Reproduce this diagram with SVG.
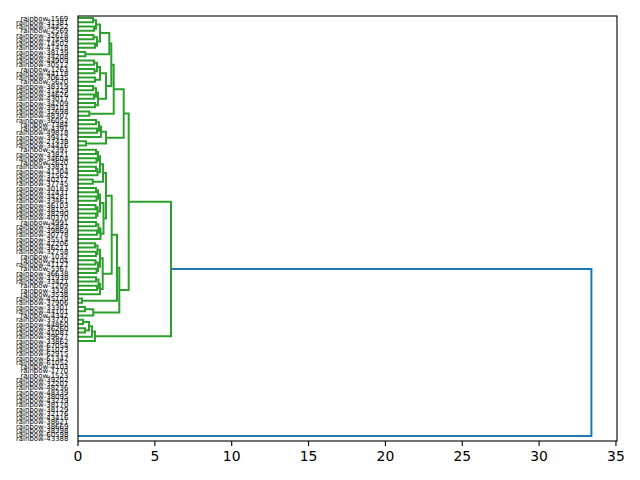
<svg xmlns="http://www.w3.org/2000/svg" width="640" height="480" viewBox="0 0 640 480">
<style>
.g{fill:none;stroke:#2ca02c;stroke-width:2;stroke-linejoin:miter;stroke-linecap:butt}
.b{fill:none;stroke:#1f77b4;stroke-width:2}
.lab{font-family:"DejaVu Sans",sans-serif;font-size:6.94px;fill:#000;text-anchor:end}
.tk{font-family:"DejaVu Sans",sans-serif;font-size:13.9px;fill:#000;text-anchor:middle}
.ax{fill:none;stroke:#000;stroke-width:1.1}
</style>
<rect width="640" height="480" fill="#fff"/>
<g id="connectors">
<path class="g" d="M78 18.1H93V22.35H78M78 26.6H94V30.85H78M93 20.23H96V28.73H94M78 35.1H93.5V39.35H78M78 43.6H95V47.85H78M93.5 37.23H97V45.73H95M96 24.48H100V41.48H97M78 52.1H85.3V56.35H78M100 32.98H109.3V54.23H85.3"/>
<path class="g" d="M78 60.6H94V64.85H78M78 69.1H94.5V73.35H78M94 62.73H97V71.23H94.5M78 77.6H95V81.85H78M97 66.98H100V79.73H95M78 86.1H93V90.35H78M78 94.6H94V98.85H78M93 88.23H96V96.73H94M78 103.1H95V107.35H78M96 92.48H98V105.23H95M100 73.35H106V98.85H98M109.3 43.6H111.3V86.1H106M78 111.6H89.3V115.85H78M111.3 64.85H113.7V113.73H89.3"/>
<path class="g" d="M78 120.1H96V124.35H78M78 128.6H97V132.85H78M96 122.23H99V130.73H97M99 126.48H101V137.1H78M78 141.35H86V145.6H78M101 131.79H106V143.48H86M113.7 89.29H123.7V137.63H106"/>
<path class="g" d="M78 149.85H96V154.1H78M78 158.35H96.5V162.6H78M96 151.98H98V160.48H96.5M78 166.85H96V171.1H78M96 168.98H97.5V175.35H78M98 156.23H100V172.16H97.5M78 179.6H92.7V183.85H78M100 164.2H103V181.73H92.7"/>
<path class="g" d="M78 188.1H96V192.35H78M78 196.6H96.5V200.85H78M96 190.23H98V198.73H96.5M78 205.1H95.5V209.35H78M78 213.6H96V217.85H78M95.5 207.23H97.5V215.73H96M98 194.48H100V211.48H97.5M78 222.1H96V226.35H78M78 230.6H97V234.85H78M96 224.23H98.5V232.73H97M98.5 228.48H100.5V239.1H78M100 202.98H103.5V233.79H100.5M103 172.96H106V218.39H103.5"/>
<path class="g" d="M78 243.35H95V247.6H78M78 251.85H96V256.1H78M95 245.48H97.5V253.98H96M78 260.35H95.5V264.6H78M78 268.85H96.5V273.1H78M95.5 262.48H98V270.98H96.5M97.5 249.73H100V266.73H98M78 277.35H96V281.6H78M78 285.85H97V290.1H78M96 279.48H98.5V287.98H97M98.5 283.73H100V294.35H78M100 258.23H102.7V289.04H100M106 195.67H111.7V273.64H102.7"/>
<path class="g" d="M78 298.6H82V302.85H78M111.7 234.66H117V300.73H82M78 307.1H85V311.35H78M85 309.23H93.3V315.6H78M117 267.7H119.3V312.41H93.3M123.7 113.46H128.7V290.06H119.3"/>
<path class="g" d="M78 319.85H83V324.1H78M78 328.35H85V332.6H78M83 321.98H89V330.48H85M89 326.23H92V336.85H78M92 331.54H95V341.1H78M128.7 201.76H171V336.32H95"/>
<path class="b" d="M171 269.04H591.4V436H78"/>
</g>
<g id="axes">
<rect class="ax" x="78" y="16" width="539" height="425"/>
<path class="ax" d="M78 441v4.9M154.85 441v4.9M231.7 441v4.9M308.55 441v4.9M385.4 441v4.9M462.25 441v4.9M539.1 441v4.9M615.95 441v4.9"/>
<text class="tk" x="78" y="461">0</text>
<text class="tk" x="154.85" y="461">5</text>
<text class="tk" x="231.7" y="461">10</text>
<text class="tk" x="308.55" y="461">15</text>
<text class="tk" x="385.4" y="461">20</text>
<text class="tk" x="462.25" y="461">25</text>
<text class="tk" x="539.1" y="461">30</text>
<text class="tk" x="615.95" y="461">35</text>
</g>
<g id="leaves">
<text class="lab" x="68.3" y="20.5">rainbow-1569</text>
<text class="lab" x="68.3" y="24.75">rainbow-31381</text>
<text class="lab" x="68.3" y="29">rainbow-34452</text>
<text class="lab" x="68.3" y="33.25">rainbow-2569</text>
<text class="lab" x="68.3" y="37.5">rainbow-32618</text>
<text class="lab" x="68.3" y="41.75">rainbow-47458</text>
<text class="lab" x="68.3" y="46">rainbow-14502</text>
<text class="lab" x="68.3" y="50.25">rainbow-41418</text>
<text class="lab" x="68.3" y="54.5">rainbow-38139</text>
<text class="lab" x="68.3" y="58.75">rainbow-34208</text>
<text class="lab" x="68.3" y="63">rainbow-44909</text>
<text class="lab" x="68.3" y="67.25">rainbow-30512</text>
<text class="lab" x="68.3" y="71.5">rainbow-1263</text>
<text class="lab" x="68.3" y="75.75">rainbow-44118</text>
<text class="lab" x="68.3" y="80">rainbow-30635</text>
<text class="lab" x="68.3" y="84.25">rainbow-5620</text>
<text class="lab" x="68.3" y="88.5">rainbow-38319</text>
<text class="lab" x="68.3" y="92.75">rainbow-31429</text>
<text class="lab" x="68.3" y="97">rainbow-34626</text>
<text class="lab" x="68.3" y="101.25">rainbow-43017</text>
<text class="lab" x="68.3" y="105.5">rainbow-34209</text>
<text class="lab" x="68.3" y="109.75">rainbow-39103</text>
<text class="lab" x="68.3" y="114">rainbow-32698</text>
<text class="lab" x="68.3" y="118.25">rainbow-48307</text>
<text class="lab" x="68.3" y="122.5">rainbow-36052</text>
<text class="lab" x="68.3" y="126.75">rainbow-7384</text>
<text class="lab" x="68.3" y="131">rainbow-4391</text>
<text class="lab" x="68.3" y="135.25">rainbow-49818</text>
<text class="lab" x="68.3" y="139.5">rainbow-39412</text>
<text class="lab" x="68.3" y="143.75">rainbow-27438</text>
<text class="lab" x="68.3" y="148">rainbow-34416</text>
<text class="lab" x="68.3" y="152.25">rainbow-2391</text>
<text class="lab" x="68.3" y="156.5">rainbow-33821</text>
<text class="lab" x="68.3" y="160.75">rainbow-34604</text>
<text class="lab" x="68.3" y="165">rainbow-2620</text>
<text class="lab" x="68.3" y="169.25">rainbow-33831</text>
<text class="lab" x="68.3" y="173.5">rainbow-41304</text>
<text class="lab" x="68.3" y="177.75">rainbow-31562</text>
<text class="lab" x="68.3" y="182">rainbow-40217</text>
<text class="lab" x="68.3" y="186.25">rainbow-37745</text>
<text class="lab" x="68.3" y="190.5">rainbow-30183</text>
<text class="lab" x="68.3" y="194.75">rainbow-32431</text>
<text class="lab" x="68.3" y="199">rainbow-34281</text>
<text class="lab" x="68.3" y="203.25">rainbow-33461</text>
<text class="lab" x="68.3" y="207.5">rainbow-36103</text>
<text class="lab" x="68.3" y="211.75">rainbow-38155</text>
<text class="lab" x="68.3" y="216">rainbow-38290</text>
<text class="lab" x="68.3" y="220.25">rainbow-40370</text>
<text class="lab" x="68.3" y="224.5">rainbow-4991</text>
<text class="lab" x="68.3" y="228.75">rainbow-32887</text>
<text class="lab" x="68.3" y="233">rainbow-39869</text>
<text class="lab" x="68.3" y="237.25">rainbow-30778</text>
<text class="lab" x="68.3" y="241.5">rainbow-35514</text>
<text class="lab" x="68.3" y="245.75">rainbow-42206</text>
<text class="lab" x="68.3" y="250">rainbow-36211</text>
<text class="lab" x="68.3" y="254.25">rainbow-32758</text>
<text class="lab" x="68.3" y="258.5">rainbow-1032</text>
<text class="lab" x="68.3" y="262.75">rainbow-4104</text>
<text class="lab" x="68.3" y="267">rainbow-41127</text>
<text class="lab" x="68.3" y="271.25">rainbow-5367</text>
<text class="lab" x="68.3" y="275.5">rainbow-36638</text>
<text class="lab" x="68.3" y="279.75">rainbow-31938</text>
<text class="lab" x="68.3" y="284">rainbow-33421</text>
<text class="lab" x="68.3" y="288.25">rainbow-1209</text>
<text class="lab" x="68.3" y="292.5">rainbow-3328</text>
<text class="lab" x="68.3" y="296.75">rainbow-3538</text>
<text class="lab" x="68.3" y="301">rainbow-45120</text>
<text class="lab" x="68.3" y="305.25">rainbow-37906</text>
<text class="lab" x="68.3" y="309.5">rainbow-33301</text>
<text class="lab" x="68.3" y="313.75">rainbow-44101</text>
<text class="lab" x="68.3" y="318">rainbow-4342</text>
<text class="lab" x="68.3" y="322.25">rainbow-33720</text>
<text class="lab" x="68.3" y="326.5">rainbow-44860</text>
<text class="lab" x="68.3" y="330.75">rainbow-36260</text>
<text class="lab" x="68.3" y="335">rainbow-41087</text>
<text class="lab" x="68.3" y="339.25">rainbow-39627</text>
<text class="lab" x="68.3" y="343.5">rainbow-33862</text>
<text class="lab" x="68.3" y="347.75">rainbow-67054</text>
<text class="lab" x="68.3" y="352">rainbow-61023</text>
<text class="lab" x="68.3" y="356.25">rainbow-62915</text>
<text class="lab" x="68.3" y="360.5">rainbow-61347</text>
<text class="lab" x="68.3" y="364.75">rainbow-61052</text>
<text class="lab" x="68.3" y="369">rainbow-4103</text>
<text class="lab" x="68.3" y="373.25">rainbow-1770</text>
<text class="lab" x="68.3" y="377.5">rainbow-1523</text>
<text class="lab" x="68.3" y="381.75">rainbow-39202</text>
<text class="lab" x="68.3" y="386">rainbow-32207</text>
<text class="lab" x="68.3" y="390.25">rainbow-48236</text>
<text class="lab" x="68.3" y="394.5">rainbow-48339</text>
<text class="lab" x="68.3" y="398.75">rainbow-38095</text>
<text class="lab" x="68.3" y="403">rainbow-43279</text>
<text class="lab" x="68.3" y="407.25">rainbow-38170</text>
<text class="lab" x="68.3" y="411.5">rainbow-38129</text>
<text class="lab" x="68.3" y="415.75">rainbow-32176</text>
<text class="lab" x="68.3" y="420">rainbow-43416</text>
<text class="lab" x="68.3" y="424.25">rainbow-38621</text>
<text class="lab" x="68.3" y="428.5">rainbow-38669</text>
<text class="lab" x="68.3" y="432.75">rainbow-38398</text>
<text class="lab" x="68.3" y="437">rainbow-60598</text>
<text class="lab" x="68.3" y="441.25">rainbow-43388</text>
</g>
</svg>
